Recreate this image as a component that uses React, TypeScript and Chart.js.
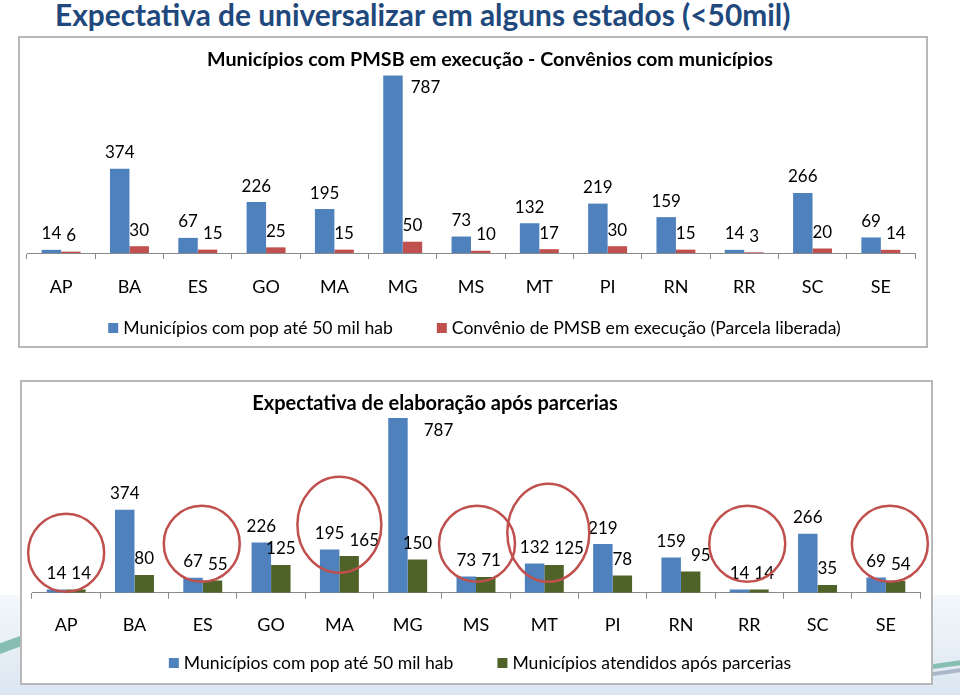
import React, { useEffect, useRef } from "react";
import { Chart, registerables } from "chart.js";

Chart.register(...registerables);

// ---------- DATA ----------
const categories = ["AP", "BA", "ES", "GO", "MA", "MG", "MS", "MT", "PI", "RN", "RR", "SC", "SE"];
const municipiosAte50mil = [14, 374, 67, 226, 195, 787, 73, 132, 219, 159, 14, 266, 69];
const conveniosEmExecucao = [6, 30, 15, 25, 15, 50, 10, 17, 30, 15, 3, 20, 14];
const atendidosAposParcerias = [14, 80, 55, 125, 165, 150, 71, 125, 78, 95, 14, 35, 54];
const destacados = ["AP", "ES", "MA", "MS", "MT", "RR", "SE"];

const pageTitle = "Expectativa de universalizar em alguns estados (<50mil)";
const chart1Title = "Municípios com PMSB em execução - Convênios com municípios";
const chart2Title = "Expectativa de elaboração após parcerias";
const serieMunicipios = "Municípios com pop até 50 mil hab";
const serieConvenios = "Convênio de PMSB em execução (Parcela liberada)";
const serieAtendidos = "Municípios atendidos após parcerias";

// ---------- STYLE ----------
const FONT = "Lato, 'Open Sans', sans-serif";
const BLUE = "#4F81BD";
const RED = "#C0504D";
const GREEN = "#4F6228";
const AXIS = "#8a8a8a";
const LABEL_SIZE = 17;
const TICK_SIZE = 18;
const LEGEND_SIZE = 17.6;

// ellipse style per highlighted category (pixel offsets relative to the category centre / axis line)
const circleStyle: Record<string, { rx: number; ry: number; dx: number; dy: number }> = {
  AP: { rx: 38, ry: 39, dx: 0, dy: -40 },
  ES: { rx: 38, ry: 38, dx: -1, dy: -49 },
  MA: { rx: 42, ry: 48, dx: 0, dy: -68 },
  MS: { rx: 38, ry: 38, dx: 1, dy: -49 },
  MT: { rx: 41, ry: 49, dx: 4, dy: -60 },
  RR: { rx: 38, ry: 38, dx: -2, dy: -49 },
  SE: { rx: 38, ry: 38, dx: 4, dy: -49 },
};

const valueLabels = {
  id: "valueLabels",
  afterDatasetsDraw(chart: any) {
    const { ctx, chartArea } = chart;
    const besideGap = chart.options.plugins.valueLabels?.besideGap ?? 10;
    ctx.save();
    ctx.font = `${LABEL_SIZE}px ${FONT}`;
    ctx.fillStyle = "#000";
    ctx.textBaseline = "middle";
    ctx.textAlign = "center";
    const n = chart.data.labels.length;
    for (let i = 0; i < n; i++) {
      const items: any[] = [];
      chart.data.datasets.forEach((ds: any, di: number) => {
        const bar = chart.getDatasetMeta(di).data[i];
        const text = String(ds.data[i]);
        const w = ctx.measureText(text).width;
        let x = bar.x;
        let y = bar.y - 16;
        if (y - 10 < chartArea.top + 22) {
          x = bar.x + bar.width / 2 + besideGap + w / 2;
          y = bar.y + 12;
        }
        items.push({ text, x, y, w });
      });
      for (let k = 1; k < items.length; k++) {
        const a = items[k - 1];
        const b = items[k];
        if (Math.abs(a.y - b.y) < 18) {
          const overlap = a.x + a.w / 2 + 5 - (b.x - b.w / 2);
          if (overlap > 0) b.x += overlap;
        }
      }
      items.forEach((it) => ctx.fillText(it.text, it.x, it.y));
    }
    ctx.restore();
  },
};

const circles = {
  id: "circles",
  afterDraw(chart: any) {
    if (!chart.options.plugins.circles?.enabled) return;
    const { ctx } = chart;
    const xs = chart.scales.x;
    const base = chart.scales.y.getPixelForValue(0);
    ctx.save();
    ctx.strokeStyle = "#C0504D";
    ctx.lineWidth = 2.5;
    destacados.forEach((cat) => {
      const idx = categories.indexOf(cat);
      const st = circleStyle[cat];
      const cx = xs.getPixelForValue(idx) + st.dx;
      const cy = base + st.dy;
      ctx.beginPath();
      ctx.ellipse(cx, cy, st.rx, st.ry, 0, 0, Math.PI * 2);
      ctx.stroke();
    });
    ctx.restore();
  },
};

// legend drawn from the datasets, in the space reserved below the axis
const bottomLegend = {
  id: "bottomLegend",
  afterDraw(chart: any) {
    const opts = chart.options.plugins.bottomLegend;
    const { ctx } = chart;
    ctx.save();
    ctx.font = `${LEGEND_SIZE}px ${FONT}`;
    const items = chart.data.datasets.map((ds: any) => ({
      text: ds.label,
      color: ds.backgroundColor,
      w: 15 + ctx.measureText(ds.label).width,
    }));
    const total = items.reduce((s: number, it: any) => s + it.w, 0) + opts.gap * (items.length - 1);
    let x = chart.width / 2 - total / 2 + opts.dx;
    items.forEach((it: any) => {
      ctx.fillStyle = it.color;
      ctx.fillRect(x, opts.y - 5, 10, 10);
      ctx.fillStyle = "#000";
      ctx.textBaseline = "middle";
      ctx.textAlign = "left";
      ctx.fillText(it.text, x + 15, opts.y);
      x += it.w + opts.gap;
    });
    ctx.restore();
  },
};

function makeConfig(
  datasets: any[],
  pad: { left: number; right: number; top: number; bottom: number },
  tickPad: number,
  legendY: number,
  legendDx: number,
  besideGap: number,
  withCircles: boolean
): any {
  return {
    type: "bar",
    data: { labels: categories, datasets },
    options: {
      responsive: false,
      animation: false,
      layout: { padding: pad },
      datasets: { bar: { barPercentage: 1, categoryPercentage: 0.57 } },
      scales: {
        x: {
          grid: { display: true, drawOnChartArea: false, drawTicks: true, tickLength: 6, color: AXIS, offset: true },
          border: { display: true, color: AXIS, width: 1 },
          ticks: { color: "#000", font: { family: FONT, size: TICK_SIZE }, padding: tickPad, maxRotation: 0, autoSkip: false },
        },
        y: { display: false, min: 0, max: 900 },
      },
      plugins: {
        legend: { display: false },
        tooltip: { enabled: false },
        title: { display: false },
        circles: { enabled: withCircles },
        valueLabels: { besideGap },
        bottomLegend: { y: legendY, dx: legendDx, gap: 44 },
      },
    },
    plugins: [valueLabels, circles, bottomLegend],
  };
}

function ChartCanvas(props: { config: any; width: number; height: number; style: React.CSSProperties }) {
  const ref = useRef<HTMLCanvasElement | null>(null);
  useEffect(() => {
    if (!ref.current) return;
    const chart = new Chart(ref.current, props.config);
    return () => chart.destroy();
  }, []);
  return <canvas ref={ref} width={props.width} height={props.height} style={{ position: "absolute", ...props.style }} />;
}

export default function App() {
  const cfg1 = makeConfig(
    [
      { label: serieMunicipios, data: municipiosAte50mil, backgroundColor: BLUE },
      { label: serieConvenios, data: conveniosEmExecucao, backgroundColor: RED },
    ],
    { left: 7, right: 11, top: 12, bottom: 31 },
    17.2,
    290,
    1.5,
    8,
    false
  );
  const cfg2 = makeConfig(
    [
      { label: serieMunicipios, data: municipiosAte50mil, backgroundColor: BLUE },
      { label: serieAtendidos, data: atendidosAposParcerias, backgroundColor: GREEN },
    ],
    { left: 10, right: 11, top: 11, bottom: 31.7 },
    15.5,
    281,
    3.5,
    16,
    true
  );

  return (
    <div
      style={{
        position: "absolute",
        left: 0,
        top: 0,
        width: 960,
        height: 695,
        overflow: "hidden",
        background: "#ffffff",
        fontFamily: FONT,
      }}
    >
      {/* background decoration */}
      <div style={{ position: "absolute", left: 0, top: 595, width: 960, height: 100, background: "linear-gradient(#f4f8fb, #dbe6f1)" }} />
      <div style={{ position: "absolute", left: -10, top: 640, width: 40, height: 10, background: "#86bfb2", transform: "rotate(-20deg)" }} />
      <div style={{ position: "absolute", left: 925, top: 662, width: 45, height: 5, background: "#86bfb2", transform: "rotate(-8deg)" }} />
      <div style={{ position: "absolute", left: 925, top: 670, width: 45, height: 4, background: "#a9b7c9", transform: "rotate(-8deg)" }} />

      <div
        style={{
          position: "absolute",
          left: 55,
          top: -6,
          fontSize: 31,
          fontWeight: 700,
          color: "#1F497D",
          whiteSpace: "nowrap",
          lineHeight: "40px",
          transform: "scaleX(0.963)",
          transformOrigin: "left center",
        }}
      >
        {pageTitle}
      </div>

      {/* chart 1 */}
      <div
        style={{
          position: "absolute",
          left: 18,
          top: 36,
          width: 910,
          height: 312,
          boxSizing: "border-box",
          border: "2px solid #b8b8b8",
          background: "#fff",
        }}
      />
      <ChartCanvas config={cfg1} width={906} height={308} style={{ left: 20, top: 38 }} />
      <div
        style={{
          position: "absolute",
          left: 490,
          top: 58,
          transform: "translate(-50%, -50%)",
          fontSize: 19.7,
          fontWeight: 700,
          color: "#000",
          whiteSpace: "nowrap",
        }}
      >
        {chart1Title}
      </div>

      {/* chart 2 */}
      <div
        style={{
          position: "absolute",
          left: 20,
          top: 380,
          width: 913,
          height: 305,
          boxSizing: "border-box",
          border: "2px solid #b8b8b8",
          background: "#fff",
        }}
      />
      <ChartCanvas config={cfg2} width={909} height={301} style={{ left: 22, top: 382 }} />
      <div
        style={{
          position: "absolute",
          left: 435,
          top: 402,
          transform: "translate(-50%, -50%)",
          fontSize: 20,
          fontWeight: 700,
          color: "#000",
          whiteSpace: "nowrap",
        }}
      >
        {chart2Title}
      </div>
    </div>
  );
}
